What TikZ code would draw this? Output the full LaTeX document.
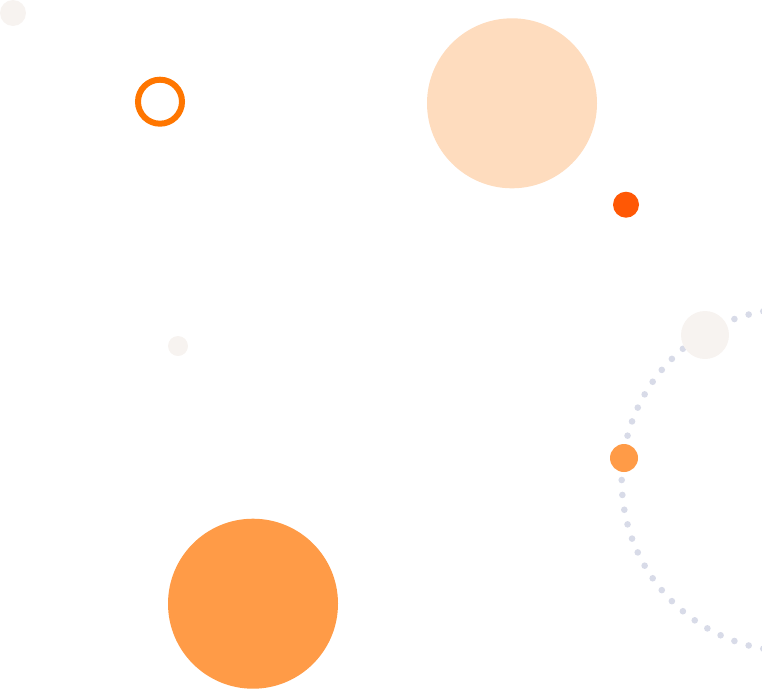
\documentclass[tikz,border=0pt]{standalone}
\usepackage{tikz}
\usetikzlibrary{calc}

\definecolor{peach}{RGB}{254,220,190}
\definecolor{tangerine}{RGB}{255,155,71}
\definecolor{flame}{RGB}{255,88,5}
\definecolor{ringorange}{RGB}{255,118,0}
\definecolor{shell}{RGB}{247,243,240}
\definecolor{mist}{RGB}{216,219,232}

\tikzset{
  blob/.style={fill=#1, draw=none},
  pearl/.style={fill=mist, draw=none}
}

\begin{document}
\begin{tikzpicture}[x=1pt,y=-1pt]

    %Cadre
    \useasboundingbox (0,0) rectangle (762,689);
    \clip (0,0) rectangle (762,689);

    %Arc en pointilles
    \foreach \a in {0,5,...,355}
        \fill[pearl] ($(793,480)+(\a:171.3)$) circle (3.3);

    %Petits cercles clairs
    \fill[blob=shell] (13,13) circle (13);
    \fill[blob=shell] (178,346) circle (10);
    \fill[blob=shell] (705,335) circle (24);

    %Anneau
    \draw[ringorange, line width=6] (160,101.7) circle (22);

    %Grands cercles
    \fill[blob=peach] (512,103.3) circle (85);
    \fill[blob=tangerine] (253,603.7) circle (85);

    %Points orange
    \fill[blob=flame] (626,204.7) circle (13);
    \fill[blob=tangerine] (624,458) circle (14);

\end{tikzpicture}
\end{document}
